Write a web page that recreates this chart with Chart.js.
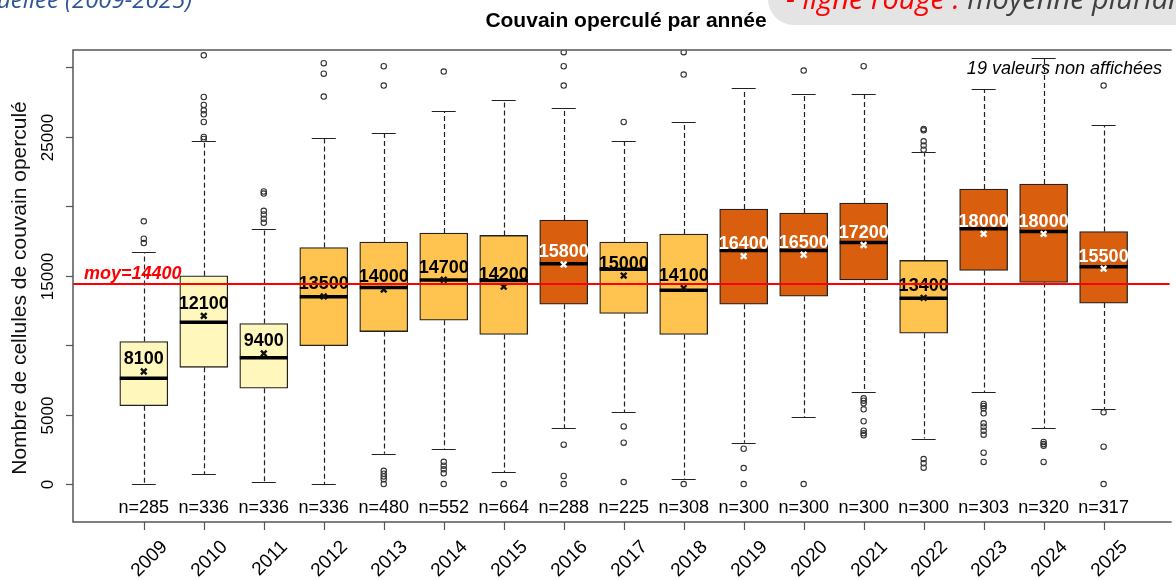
<!DOCTYPE html>
<html>
<head>
<meta charset="utf-8">
<script src="https://cdn.jsdelivr.net/npm/chart.js@4.4.1/dist/chart.umd.min.js"></script>
<style>
  html, body { margin: 0; padding: 0; background: #fff; overflow: hidden; }
  canvas { display: block; }
</style>
</head>
<body>
<canvas id="boxChart" width="1176" height="580"></canvas>
<script>
// --- DATA ---
const years = ['2009', '2010', '2011', '2012', '2013', '2014', '2015', '2016', '2017',
               '2018', '2019', '2020', '2021', '2022', '2023', '2024', '2025'];
const q1 =          [5640, 8400, 6890, 9960, 10970, 11790, 10760, 12940, 12270, 10760, 12940, 13520, 14690, 10850, 15370, 14500, 13020];
const medians =     [7610, 11650, 9080, 13470, 14150, 14690, 14650, 15850, 15460, 13950, 16810, 16810, 17380, 13370, 18370, 18170, 15630];
const q3 =          [10250, 14980, 11550, 17020, 17410, 18060, 17890, 18990, 17410, 17990, 19790, 19500, 20220, 16090, 21230, 21590, 18170];
const whiskerLow =  [0, 720, 140, 0, 2180, 2540, 860, 4010, 5160, 360, 2980, 4800, 6600, 3270, 6600, 4010, 5400];
const whiskerHigh = [16690, 24660, 18350, 24870, 25230, 26840, 27640, 27060, 24660, 26050, 28500, 28090, 28090, 23870, 28430, 30640, 25810];
const means =       [8100, 12100, 9400, 13500, 14000, 14700, 14200, 15800, 15000, 14100, 16400, 16500, 17200, 13400, 18000, 18000, 15500];
const counts =      [285, 336, 336, 336, 480, 552, 664, 288, 225, 308, 300, 300, 300, 300, 303, 320, 317];
const outliers = [
    [18900, 17650, 17340],
    [30850, 27850, 27280, 26890, 26600, 26050, 24970, 24830],
    [21050, 20900, 19660, 19400, 19090, 18800],
    [30280, 29530, 27880],
    [30060, 28670, 950, 750, 550, 350, 0],
    [29680, 1600, 1320, 1060, 770, 0],
    [0],
    [31070, 30060, 28670, 2830, 580, 0],
    [26050, 4150, 2980, 140],
    [31070, 29460, 0],
    [2540, 1150, 0],
    [29750, 0],
    [30060, 6170, 6000, 5810, 5380, 4520, 3840, 3650, 3510],
    [25550, 25450, 24660, 24350, 24060, 1800, 1490, 1180],
    [5760, 5620, 5450, 5090, 4370, 4130, 3840, 3550, 2260, 1590],
    [3030, 2880, 2760, 1590],
    [28670, 5160, 2690, 0]
];
const overallMean = 14400;
const yTicks = [0, 5000, 10000, 15000, 20000, 25000, 30000];
const yTickLabels = ['0', '5000', '', '15000', '', '25000', ''];
const hiddenCount = 19;

// YlOrBr classes: above / around / below the long-term mean
const PALE = '#FFF7BC', MID = '#FEC44F', DARK = '#D95F0E';
function boxColor(m) {
    if (m >= overallMean * 1.075) return DARK;
    if (m <= overallMean * 0.925) return PALE;
    return MID;
}
const isDark = means.map(m => boxColor(m) === DARK);

// --- DRAWING EXTRAS (whiskers, medians, labels, frame) ---
const boxExtras = {
    id: 'boxExtras',
    beforeDatasetsDraw(chart) {
        const { ctx, scales: { x, y } } = chart;
        ctx.save();
        ctx.strokeStyle = '#222';
        ctx.lineWidth = 1.2;
        years.forEach((yr, i) => {
            const cx = Math.round(x.getPixelForValue(i + 1)) + 0.5;
            // dashed whiskers
            ctx.setLineDash([5, 3]);
            ctx.beginPath();
            ctx.moveTo(cx, y.getPixelForValue(q3[i]));
            ctx.lineTo(cx, y.getPixelForValue(whiskerHigh[i]));
            ctx.moveTo(cx, y.getPixelForValue(q1[i]));
            ctx.lineTo(cx, y.getPixelForValue(whiskerLow[i]));
            ctx.stroke();
            // caps
            ctx.setLineDash([]);
            const l = x.getPixelForValue(i + 0.8), r = x.getPixelForValue(i + 1.2);
            ctx.beginPath();
            [whiskerHigh[i], whiskerLow[i]].forEach(v => {
                const py = Math.round(y.getPixelForValue(v)) + 0.5;
                ctx.moveTo(l, py);
                ctx.lineTo(r, py);
            });
            ctx.stroke();
        });
        ctx.restore();
    },
    afterDatasetDraw(chart, args) {
        if (args.index !== 0) return;
        const { ctx, scales: { x, y } } = chart;
        ctx.save();
        ctx.strokeStyle = '#000';
        ctx.lineWidth = 3.5;
        medians.forEach((m, i) => {
            const py = y.getPixelForValue(m);
            ctx.beginPath();
            ctx.moveTo(x.getPixelForValue(i + 0.6), py);
            ctx.lineTo(x.getPixelForValue(i + 1.4), py);
            ctx.stroke();
        });
        ctx.restore();
    },
    afterDatasetsDraw(chart) {
        const { ctx, chartArea: a, scales: { x, y } } = chart;
        ctx.save();
        // mean labels
        ctx.font = 'bold 18px "Liberation Sans", Arial, sans-serif';
        ctx.textAlign = 'center';
        ctx.textBaseline = 'middle';
        means.forEach((m, i) => {
            ctx.fillStyle = isDark[i] ? '#fff' : '#000';
            ctx.fillText(String(m), x.getPixelForValue(i + 1), y.getPixelForValue(m) - 12);
        });
        // long-term mean line
        const my = y.getPixelForValue(overallMean);
        ctx.strokeStyle = '#ff0000';
        ctx.lineWidth = 2;
        ctx.beginPath();
        ctx.moveTo(a.left, my);
        ctx.lineTo(a.right, my);
        ctx.stroke();
        ctx.fillStyle = '#ff0000';
        ctx.font = 'italic bold 18px "Liberation Sans", Arial, sans-serif';
        ctx.textAlign = 'left';
        ctx.textBaseline = 'alphabetic';
        ctx.fillText('moy=' + overallMean, a.left + 11, my - 5);
        // counts
        ctx.fillStyle = '#000';
        ctx.font = '18px "Liberation Sans", Arial, sans-serif';
        ctx.textAlign = 'center';
        counts.forEach((n, i) => {
            ctx.fillText('n=' + n, x.getPixelForValue(i + 1), a.bottom - 9);
        });
        // hidden values note
        ctx.font = 'italic 18px "Liberation Sans", Arial, sans-serif';
        ctx.textAlign = 'right';
        ctx.fillText(hiddenCount + ' valeurs non affichées', 1162, a.top + 24);
        ctx.restore();
    },
    afterDraw(chart) {
        const { ctx, chartArea: a, scales: { x, y } } = chart;
        ctx.save();
        // frame (the right side runs past the window)
        ctx.strokeStyle = '#555';
        ctx.lineWidth = 1.5;
        ctx.beginPath();
        ctx.moveTo(a.right + 2, a.top);
        ctx.lineTo(a.left, a.top);
        ctx.lineTo(a.left, a.bottom);
        ctx.lineTo(a.right + 2, a.bottom);
        ctx.stroke();
        // y ticks and rotated labels
        ctx.lineWidth = 1.2;
        ctx.fillStyle = '#000';
        ctx.font = '17px "Liberation Sans", Arial, sans-serif';
        ctx.textAlign = 'center';
        ctx.textBaseline = 'alphabetic';
        yTicks.forEach((v, i) => {
            const py = Math.round(y.getPixelForValue(v)) + 0.5;
            ctx.beginPath();
            ctx.moveTo(a.left, py);
            ctx.lineTo(a.left - 7, py);
            ctx.stroke();
            if (yTickLabels[i]) {
                ctx.save();
                ctx.translate(a.left - 20, py);
                ctx.rotate(-Math.PI / 2);
                ctx.fillText(yTickLabels[i], 0, 0);
                ctx.restore();
            }
        });
        // x ticks and slanted year labels
        ctx.font = '19px "Liberation Sans", Arial, sans-serif';
        ctx.textAlign = 'right';
        ctx.textBaseline = 'middle';
        years.forEach((yr, i) => {
            const px = Math.round(x.getPixelForValue(i + 1)) + 0.5;
            ctx.beginPath();
            ctx.moveTo(px, a.bottom);
            ctx.lineTo(px, a.bottom + 8);
            ctx.stroke();
            ctx.save();
            ctx.translate(px + 20, a.bottom + 22);
            ctx.rotate(-Math.PI / 4);
            ctx.fillText(yr, 0, 0);
            ctx.restore();
        });
        // y axis title
        ctx.save();
        ctx.translate(26, (a.top + a.bottom) / 2 + 2);
        ctx.rotate(-Math.PI / 2);
        ctx.textAlign = 'center';
        ctx.textBaseline = 'alphabetic';
        ctx.font = '21px "Liberation Sans", Arial, sans-serif';
        ctx.fillStyle = '#111';
        ctx.fillText('Nombre de cellules de couvain operculé', 0, 0);
        ctx.restore();
        // title
        ctx.font = 'bold 21px "Liberation Sans", Arial, sans-serif';
        ctx.textAlign = 'center';
        ctx.textBaseline = 'alphabetic';
        ctx.fillStyle = '#000';
        ctx.fillText('Couvain operculé par année', 626, 27);
        // slide leftovers cut by the crop: blue subtitle and grey legend note
        ctx.font = 'italic 24px "Open Sans", sans-serif';
        ctx.fillStyle = '#2F5597';
        ctx.textAlign = 'right';
        ctx.fillText('annuellée (2009-2025)', 192, 8);
        ctx.fillStyle = '#E4E4E4';
        ctx.beginPath();
        ctx.moveTo(766, -2);
        ctx.lineTo(1180, -2);
        ctx.lineTo(1180, 25);
        ctx.lineTo(796, 25);
        ctx.arcTo(768, 25, 768, 0, 26);
        ctx.closePath();
        ctx.fill();
        ctx.font = 'italic 29px "Open Sans", sans-serif';
        ctx.textAlign = 'left';
        ctx.fillStyle = '#ff0000';
        const note = '- ligne rouge : ';
        ctx.fillText(note, 786, 9);
        ctx.fillStyle = '#404040';
        ctx.fillText('moyenne pluriannuelle (2009-2025)', 786 + ctx.measureText(note).width, 9);
        ctx.restore();
    }
};

// --- CHART.JS SETUP ---
const ctx = document.getElementById('boxChart').getContext('2d');
const boxChart = new Chart(ctx, {
    type: 'bar',
    data: {
        datasets: [{
            type: 'bar',
            data: years.map((yr, i) => ({ x: i + 1, y: [q1[i], q3[i]] })),
            backgroundColor: means.map(boxColor),
            borderColor: '#222',
            borderWidth: 1.3,
            borderSkipped: false,
            barThickness: 48,
            order: 3
        }, {
            type: 'scatter',
            data: outliers.flatMap((arr, i) => arr.map(v => ({ x: i + 1, y: v }))),
            pointStyle: 'circle',
            radius: 2.7,
            borderColor: '#333',
            backgroundColor: 'rgba(0,0,0,0)',
            borderWidth: 1.1,
            order: 2
        }, {
            type: 'scatter',
            data: means.map((m, i) => ({ x: i + 1, y: m })),
            pointStyle: 'crossRot',
            radius: 4,
            borderWidth: 2.4,
            borderColor: isDark.map(d => d ? '#fff' : '#111'),
            order: 1
        }]
    },
    options: {
        responsive: false,
        devicePixelRatio: 1,
        animation: false,
        layout: { padding: { left: 73, top: 50, right: 0, bottom: 58 } },
        plugins: { legend: { display: false }, tooltip: { enabled: false } },
        scales: {
            x: { type: 'linear', min: -0.18, max: 18.1, offset: false, display: false },
            y: { min: -2730, max: 31230, display: false }
        }
    },
    plugins: [boxExtras]
});
</script>
</body>
</html>
